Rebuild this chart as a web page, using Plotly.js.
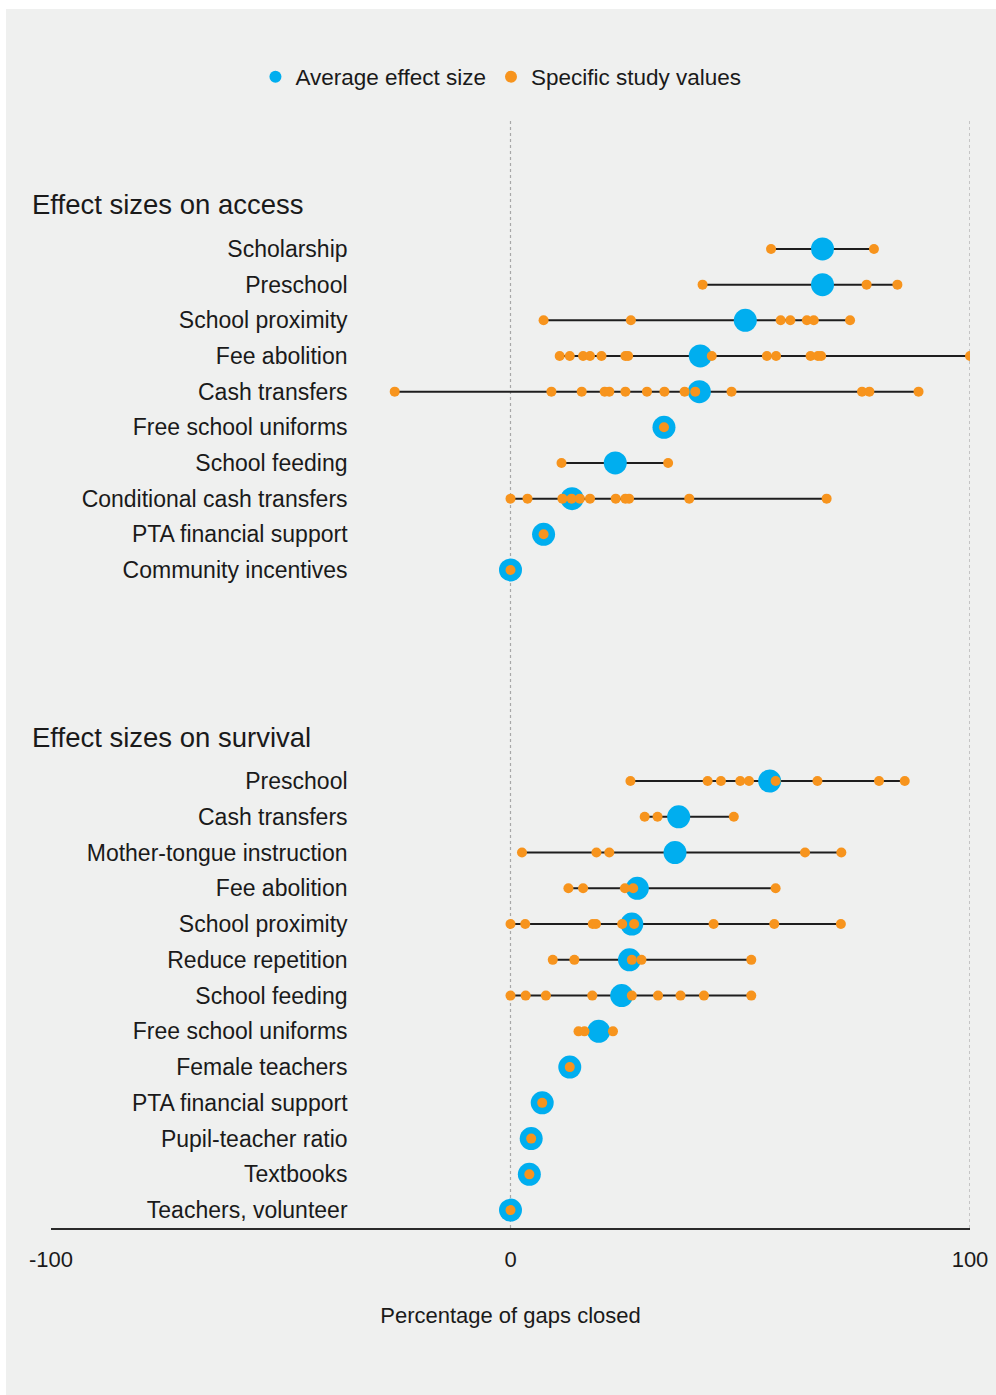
<!DOCTYPE html>
<html>
<head>
<meta charset="utf-8">
<script src="https://cdn.plot.ly/plotly-3.0.1.min.js"></script>
<style>
  html, body { margin: 0; padding: 0; background: #ffffff; }
  #chart { position: absolute; left: 6px; top: 9px; width: 990px; height: 1386px; }
</style>
</head>
<body>
<div id="chart"></div>
<script>
// ---------- DATA ----------
const accessCategories = [
  "Scholarship", "Preschool", "School proximity", "Fee abolition", "Cash transfers",
  "Free school uniforms", "School feeding", "Conditional cash transfers",
  "PTA financial support", "Community incentives"
];
const accessAverages = [67.9, 67.9, 51.1, 41.3, 41.1, 33.4, 22.8, 13.4, 7.2, 0];
const accessStudies = [
  [56.7, 79.1],
  [41.8, 77.5, 84.2],
  [7.2, 26.2, 58.8, 60.9, 64.5, 66.0, 73.9],
  [10.7, 12.9, 15.8, 17.3, 19.8, 25.0, 25.6, 43.8, 55.8, 57.8, 65.3, 66.9, 67.6, 100],
  [-25.2, 8.9, 15.5, 20.5, 21.5, 25.0, 29.7, 33.5, 37.9, 40.2, 48.1, 76.5, 78.1, 88.8],
  [33.4],
  [11.1, 34.3],
  [0, 3.7, 11.3, 13.3, 15.1, 17.3, 22.9, 25.0, 25.8, 38.9, 68.8],
  [7.2],
  [0]
];

const survivalCategories = [
  "Preschool", "Cash transfers", "Mother-tongue instruction", "Fee abolition",
  "School proximity", "Reduce repetition", "School feeding", "Free school uniforms",
  "Female teachers", "PTA financial support", "Pupil-teacher ratio", "Textbooks",
  "Teachers, volunteer"
];
const survivalAverages = [56.4, 36.6, 35.8, 27.6, 26.4, 25.9, 24.2, 19.2, 12.9, 6.9, 4.5, 4.1, 0];
const survivalStudies = [
  [26.1, 42.9, 45.8, 50.0, 51.9, 57.7, 66.8, 80.2, 85.8],
  [29.2, 32.0, 48.6],
  [2.5, 18.7, 21.5, 64.1, 72.0],
  [12.6, 15.8, 24.9, 26.7, 57.7],
  [0, 3.2, 17.9, 18.6, 24.3, 26.9, 44.2, 57.4, 71.9],
  [9.2, 13.9, 26.4, 28.5, 52.4],
  [0, 3.3, 7.7, 17.8, 26.4, 32.1, 37.0, 42.1, 52.4],
  [14.8, 16.1, 22.3],
  [12.9],
  [6.9],
  [4.5],
  [4.1],
  [0]
];

const xTickValues = [-100, 0, 100];
const xTickLabels = ["-100", "0", "100"];

// ---------- STYLE ----------
const BLUE = "#00aeef";
const ORANGE = "#f7941d";
const BG = "#eff0ef";
const TXT = "#1a1a1a";
const FONT = "Liberation Sans, Arial, sans-serif";

function buildTraces(cats, avgs, studies, yaxisId, legend) {
  const lx = [], ly = [];
  cats.forEach((c, i) => {
    const vals = studies[i].concat([avgs[i]]);
    const mn = Math.min(...vals), mx = Math.max(...vals);
    if (mx > mn) { lx.push(mn, mx, null); ly.push(c, c, null); }
  });
  const ox = [], oy = [];
  cats.forEach((c, i) => { studies[i].forEach(v => { ox.push(v); oy.push(c); }); });
  return [
    { type: "scatter", mode: "lines", x: lx, y: ly, yaxis: yaxisId, showlegend: false,
      line: { color: "#1e1e1e", width: 2 }, hoverinfo: "skip", connectgaps: false },
    { type: "scatter", mode: "markers", x: avgs, y: cats, yaxis: yaxisId,
      name: "Average effect size", showlegend: legend, legendrank: 1,
      marker: { color: BLUE, size: 23, line: { width: 0 } } },
    { type: "scatter", mode: "markers", x: ox, y: oy, yaxis: yaxisId,
      name: "Specific study values", showlegend: legend, legendrank: 2,
      marker: { color: ORANGE, size: 10, line: { width: 0 } } }
  ];
}

const traces = [].concat(
  buildTraces(accessCategories, accessAverages, accessStudies, "y2", true),
  buildTraces(survivalCategories, survivalAverages, survivalStudies, "y", false)
);

const labelPos = 0.3227;

const layout = {
  width: 990, height: 1386,
  paper_bgcolor: BG, plot_bgcolor: BG,
  margin: { l: 45, r: 26, t: 111, b: 167 },
  font: { family: FONT, size: 22, color: TXT },
  showlegend: true,
  legend: {
    orientation: "h", x: 0.4896, xanchor: "center", y: 1.0388, yanchor: "middle",
    font: { family: FONT, size: 22.5, color: TXT }, itemsizing: "constant",
    bgcolor: "rgba(0,0,0,0)", traceorder: "normal"
  },
  xaxis: {
    range: [-100, 100], tickvals: xTickValues, ticktext: xTickLabels,
    showgrid: false, zeroline: false, showline: true, linecolor: "#2a2a2a", linewidth: 1.5,
    ticks: "", ticklabelstandoff: 11, automargin: "bottom",
    tickfont: { family: FONT, size: 22, color: TXT },
    title: { text: "Percentage of gaps closed", font: { family: FONT, size: 22, color: TXT }, standoff: 36 },
    fixedrange: true
  },
  yaxis: {
    type: "category", categoryarray: survivalCategories, categoryorder: "array",
    range: [survivalCategories.length - 0.5, -0.5],
    domain: [0, 0.4195], anchor: "free", position: labelPos, side: "left",
    showgrid: false, zeroline: false, showline: false, ticks: "", automargin: false,
    tickfont: { family: FONT, size: 23, color: TXT }, fixedrange: true
  },
  yaxis2: {
    type: "category", categoryarray: accessCategories, categoryorder: "array",
    range: [accessCategories.length - 0.5, -0.5],
    domain: [0.5778, 0.8997], anchor: "free", position: labelPos, side: "left",
    showgrid: false, zeroline: false, showline: false, ticks: "", automargin: false,
    tickfont: { family: FONT, size: 23, color: TXT }, fixedrange: true
  },
  shapes: [0, 100].map(v => ({
    type: "line", xref: "x", yref: "paper", x0: v, x1: v, y0: 0, y1: 1,
    line: { color: "#a8a8a8", width: 1.2, dash: "dot" }, layer: "below"
  })),
  annotations: [
    { text: "Effect sizes on access", xref: "paper", yref: "paper", x: -0.023, y: 0.9233,
      xanchor: "left", yanchor: "middle", showarrow: false,
      font: { family: FONT, size: 27.5, color: TXT } },
    { text: "Effect sizes on survival", xref: "paper", yref: "paper", x: -0.023, y: 0.4431,
      xanchor: "left", yanchor: "middle", showarrow: false,
      font: { family: FONT, size: 27.5, color: TXT } }
  ]
};

Plotly.newPlot("chart", traces, layout, { displayModeBar: false, staticPlot: true });
</script>
</body>
</html>
